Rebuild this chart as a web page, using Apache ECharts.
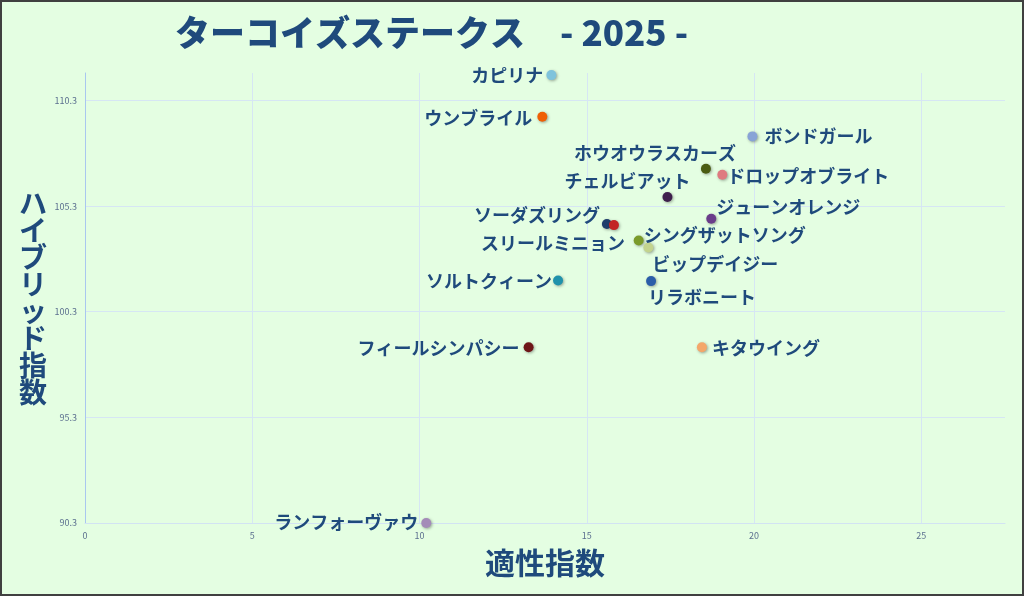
<!DOCTYPE html>
<html><head><meta charset="utf-8">
<script src="https://cdn.jsdelivr.net/npm/echarts@6/dist/echarts.min.js"></script>
<style>html,body{margin:0;padding:0;background:#e4fee2}#c{width:1024px;height:596px}</style>
</head><body><div id="c"></div>
<script>
const horseNames = ['カピリナ','ウンブライル','ボンドガール','ホウオウラスカーズ','ドロップオブライト','チェルビアット','ジューンオレンジ','ソーダズリング','スリールミニョン','シングザットソング','ビップデイジー','ソルトクィーン','リラボニート','フィールシンパシー','キタウイング','ランフォーヴァウ'];
const aptitudeIndex = [13.94,13.67,19.95,18.56,19.05,17.41,18.72,15.60,15.81,16.55,16.84,14.14,16.92,13.26,18.44,10.20];
const hybridIndex = [111.5,109.53,108.60,107.07,106.78,105.73,104.70,104.45,104.40,103.67,103.34,101.78,101.75,98.62,98.62,90.30];
const xTicks = [0,5,10,15,20,25];
const yTicks = [90.3,95.3,100.3,105.3,110.3];

const dotColors = ['#7fc3dc','#ef5f05','#88a3d6','#4a5c12','#df7a80','#3e1f4c','#6a3c8a','#1f3d6b','#c22424','#7a9b2a','#c3d48e','#1f92ab','#2b5ea9','#6e1618','#f4a76a','#a48bb8'];
const labelOffsets = [[-44,0],[-64,1],[66,0],[-51,-16],[86,1],[-40,-16],[77,-12],[-70,-9],[-61,18],[86,-5],[67,17],[-69,1],[51,16],[-90,1],[64,1],[-80,-1]];

const FONT = "'Noto Sans CJK JP', 'Noto Sans', sans-serif";
const TXT = '#1f4a7c';
const SYM = 10;

const points = horseNames.map((n, i) => ({
  name: n,
  value: [aptitudeIndex[i], hybridIndex[i]],
  itemStyle: { color: dotColors[i] },
  label: { position: [SYM / 2 + labelOffsets[i][0], SYM / 2 + labelOffsets[i][1]] }
}));

const chart = echarts.init(document.getElementById('c'));
chart.setOption({
  backgroundColor: '#e4fee2',
  animation: false,
  textStyle: { fontFamily: FONT },
  grid: { left: 85, right: 19, top: 73, bottom: 73, containLabel: false },
  graphic: [
    { type: 'text', left: 175, top: 15, z: 10,
      style: { text: 'ターコイズステークス　- 2025 -', fill: TXT, font: "900 35px " + FONT } },
    { type: 'rect', shape: { x: 1, y: 1, width: 1022, height: 594 }, z: 100,
      style: { fill: 'none', stroke: '#404040', lineWidth: 2 } }
  ],
  xAxis: {
    type: 'value', min: xTicks[0], max: 27.5, interval: 5,
    name: '適性指数', nameLocation: 'middle', nameGap: 40,
    nameTextStyle: { color: TXT, fontSize: 30, fontWeight: 'bold', fontFamily: FONT, verticalAlign: 'middle' },
    axisLine: { show: true, lineStyle: { color: '#d2e3f3', width: 1 } },
    axisTick: { show: false },
    axisLabel: { color: '#5b6f8f', fontSize: 9, margin: 8, showMaxLabel: false },
    splitLine: { show: true, showMaxLine: false, lineStyle: { color: '#d6e6f4', width: 1 } }
  },
  yAxis: {
    type: 'value', min: yTicks[0], max: 111.6, interval: 5,
    name: 'ハイブリッド指数'.split('').join('\n'), nameLocation: 'middle', nameGap: 52, nameRotate: 0,
    nameTextStyle: { color: TXT, fontSize: 28, fontWeight: 'bold', fontFamily: FONT, align: 'center', verticalAlign: 'middle', lineHeight: 27 },
    axisLine: { show: true, lineStyle: { color: '#a9c7ef', width: 1 } },
    axisTick: { show: false },
    axisLabel: { color: '#5b6f8f', fontSize: 9, margin: 8, showMaxLabel: false, formatter: v => v.toFixed(1) },
    splitLine: { show: true, showMaxLine: false, lineStyle: { color: '#d6e6f4', width: 1 } }
  },
  series: [{
    type: 'scatter',
    symbolSize: SYM,
    data: points,
    itemStyle: { opacity: 1, shadowBlur: 3, shadowColor: 'rgba(0,0,0,0.35)', shadowOffsetX: 1, shadowOffsetY: 1 },
    label: {
      show: true, formatter: '{b}',
      color: TXT, fontSize: 18, fontWeight: 'bold', fontFamily: FONT,
      align: 'center', verticalAlign: 'middle', textBorderWidth: 0
    },
    labelLayout: { hideOverlap: false },
    emphasis: { disabled: true }
  }]
});
</script></body></html>
